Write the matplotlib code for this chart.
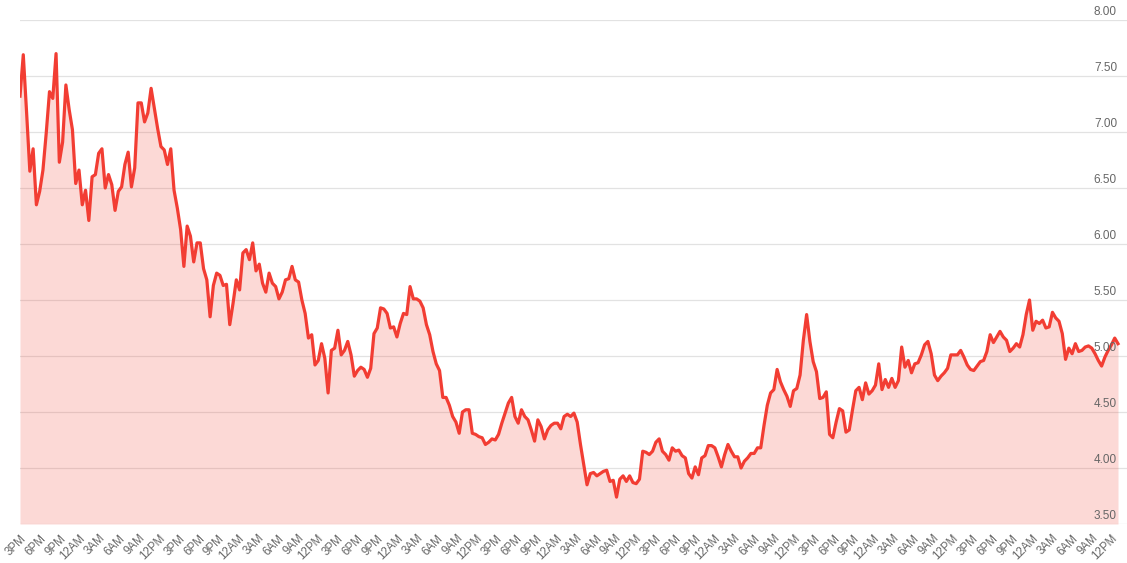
import numpy as np
import matplotlib.pyplot as plt
import matplotlib.transforms as mtransforms

plt.rcParams['font.family'] = ['Liberation Sans', 'DejaVu Sans']

# half-hourly values, 3PM day 1 -> ~1PM day 8
rate = [
    7.32, 7.69, 7.18, 6.65, 6.85, 6.35, 6.47, 6.66, 6.99, 7.36, 7.30, 7.70, 6.73, 6.91, 7.42, 7.20,
    7.02, 6.54, 6.66, 6.35, 6.48, 6.21, 6.60, 6.62, 6.81, 6.85, 6.50, 6.62, 6.53, 6.30, 6.47,
    6.51, 6.71, 6.82, 6.51, 6.68, 7.26, 7.26, 7.09, 7.17, 7.39, 7.21, 7.03, 6.87, 6.84, 6.71, 6.85,
    6.48, 6.32, 6.13, 5.80, 6.16, 6.07, 5.84, 6.01, 6.01, 5.78, 5.68,
    5.35, 5.63, 5.74, 5.72, 5.63, 5.64, 5.28, 5.47, 5.68, 5.59, 5.92, 5.95, 5.86, 6.01, 5.76, 5.82,
    5.65, 5.57, 5.74, 5.65, 5.62, 5.51, 5.57, 5.68, 5.69, 5.80, 5.68, 5.66, 5.50,
    5.38, 5.16, 5.19, 4.92, 4.96, 5.11, 4.98, 4.67, 5.05, 5.07, 5.23, 5.01, 5.05, 5.13, 5.01, 4.82,
    4.87, 4.90, 4.88, 4.81, 4.89, 5.20, 5.25, 5.43, 5.42, 5.38, 5.25, 5.26, 5.17,
    5.29, 5.38, 5.37, 5.62, 5.51, 5.51, 5.49, 5.43, 5.28, 5.19, 5.04, 4.93, 4.87, 4.63, 4.63, 4.56,
    4.46, 4.41, 4.31, 4.50, 4.52, 4.52, 4.31, 4.30, 4.28, 4.27, 4.21, 4.23, 4.26,
    4.25, 4.30, 4.40, 4.49, 4.58, 4.63, 4.46, 4.40, 4.52, 4.46, 4.43, 4.34, 4.24, 4.43, 4.37, 4.26,
    4.34, 4.38, 4.40, 4.40, 4.35, 4.46, 4.48, 4.46, 4.49, 4.41, 4.21, 4.03, 3.85,
    3.95, 3.96, 3.93, 3.95, 3.97, 3.98, 3.88, 3.89, 3.74, 3.90, 3.93, 3.88, 3.93, 3.87, 3.86, 3.90,
    4.15, 4.14, 4.12, 4.15, 4.23, 4.26, 4.15, 4.12, 4.07, 4.18, 4.15, 4.16, 4.11,
    4.09, 3.95, 3.91, 4.01, 3.94, 4.09, 4.11, 4.20, 4.20, 4.18, 4.10, 4.01, 4.12, 4.21, 4.15, 4.10,
    4.10, 4.00, 4.06, 4.09, 4.13, 4.13, 4.18, 4.18, 4.38, 4.56, 4.67, 4.70, 4.88,
    4.77, 4.70, 4.64, 4.55, 4.69, 4.71, 4.83, 5.14, 5.37, 5.13, 4.95, 4.86, 4.62, 4.63, 4.68, 4.30,
    4.27, 4.41, 4.53, 4.51, 4.32, 4.34, 4.52, 4.69, 4.72, 4.61, 4.76, 4.66, 4.69,
    4.74, 4.93, 4.70, 4.79, 4.72, 4.80, 4.72, 4.78, 5.08, 4.90, 4.96, 4.85, 4.93, 4.94, 5.01, 5.10,
    5.13, 5.02, 4.83, 4.78, 4.82, 4.85, 4.89, 5.01, 5.01, 5.01, 5.05, 4.99, 4.92,
    4.88, 4.87, 4.91, 4.95, 4.96, 5.04, 5.19, 5.12, 5.17, 5.22, 5.17, 5.14, 5.04, 5.07, 5.11, 5.08,
    5.19, 5.37, 5.50, 5.23, 5.31, 5.29, 5.32, 5.25, 5.26, 5.39, 5.34, 5.31, 5.20,
    4.97, 5.07, 5.02, 5.11, 5.04, 5.05, 5.08, 5.09, 5.07, 5.02, 4.96, 4.91, 4.99, 5.05, 5.10, 5.16,
    5.11,
]
hours = np.linspace(0, 166, len(rate))

tick_hours = np.arange(0, 166, 3)
tick_names = ["3PM", "6PM", "9PM", "12AM", "3AM", "6AM", "9AM", "12PM"] * 7
y_ticks = [3.5, 4.0, 4.5, 5.0, 5.5, 6.0, 6.5, 7.0, 7.5, 8.0]

W, H = 1127, 563
fig = plt.figure(figsize=(W / 100, H / 100), dpi=100)
ax = fig.add_axes([20 / W, 39 / H, 1107 / W, 504 / H])

ax.fill_between(hours, rate, 3.5, color='#f44336', alpha=0.2, lw=0)
ax.plot(hours, rate, color='#f23d33', lw=2.3, solid_joinstyle='round')

ax.set_xlim(0, 166 * 1107 / 1098)
ax.set_ylim(3.5, 8.0)
ax.set_yticks(y_ticks)
ax.yaxis.grid(True, color='#e2e2e2', lw=0.9)
ax.set_axisbelow(True)
ax.tick_params(axis='y', length=0, labelleft=False)
for s in ax.spines.values():
    s.set_visible(False)

trans = mtransforms.offset_copy(ax.get_yaxis_transform(), fig=fig, x=0, y=1.5, units='points')
for v in y_ticks:
    ax.text(1 - 10 / 1107, v, f"{v:.2f}", transform=trans, ha='right', va='bottom',
            color='#666666', fontsize=8.5)

ax.set_xticks(tick_hours)
ax.set_xticklabels(tick_names, rotation=45, ha='right', rotation_mode='anchor',
                   fontsize=8.3, color='#666666')
ax.tick_params(axis='x', length=0, pad=6)

fig.savefig('out.png', dpi=100)
